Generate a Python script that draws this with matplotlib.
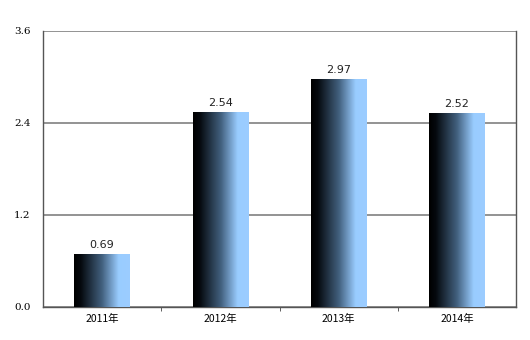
import numpy as np
import matplotlib.pyplot as plt
from matplotlib.colors import LinearSegmentedColormap

plt.rcParams['font.family'] = ['Noto Sans CJK SC', 'DejaVu Sans']

years = ['2011年', '2012年', '2013年', '2014年']
values = [0.69, 2.54, 2.97, 2.52]
yticks = [0.0, 1.2, 2.4, 3.6]

fig = plt.figure(figsize=(5.3, 3.4), dpi=100)
ax = fig.add_axes([43 / 530, 1 - 307 / 340, 473 / 530, 276 / 340])

# black -> light blue gradient, left to right
cmap = LinearSegmentedColormap.from_list('bar', [(0, '#000000'), (0.12, '#05090e'),
                                                 (0.5, '#42607e'), (0.8, '#99ccff'),
                                                 (1, '#9ccdff')])
grad = np.linspace(0, 1, 256).reshape(1, -1)

width = 0.47
x = np.arange(len(years))
for xi, v in zip(x, values):
    ax.imshow(grad, cmap=cmap, aspect='auto', extent=(xi - width / 2, xi + width / 2, 0, v),
              zorder=3, interpolation='bilinear')
    ax.text(xi, v + 0.06, f'{v:.2f}', ha='center', va='bottom', fontsize=8,
            family='DejaVu Sans', color='#222222', zorder=4)

ax.set_xlim(-0.5, len(years) - 0.5)
ax.set_ylim(0, 3.6)
ax.set_yticks(yticks)
ax.set_yticklabels([f'{t:.1f}' for t in yticks], fontsize=7.5, family='DejaVu Serif')
ax.set_xticks(x)
ax.set_xticklabels(years, fontsize=7.5)
ax.set_xticks(np.arange(0.5, len(years) - 0.5, 1), minor=True)
ax.tick_params(axis='x', which='major', length=0, pad=5)
ax.tick_params(axis='x', which='minor', length=3, direction='out', color='#444444')
ax.tick_params(axis='y', length=0, pad=9)

ax.grid(axis='y', color='#808080', linewidth=1.2, zorder=1)
ax.spines['top'].set_visible(False)
for s in ['left', 'right', 'bottom']:
    ax.spines[s].set_color('#555555')
    ax.spines[s].set_linewidth(1.0)

fig.savefig('out.png', dpi=100)
